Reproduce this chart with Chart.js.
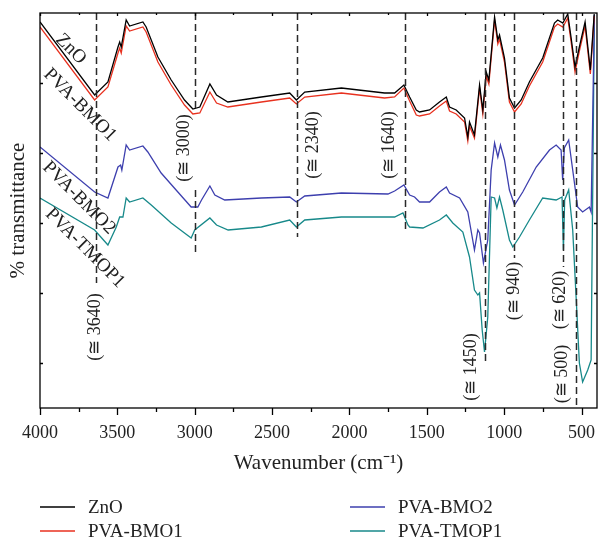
<!DOCTYPE html>
<html lang="en">
  <head>
    <meta charset="UTF-8" />
    <title>FTIR spectra</title>
    <style>
      body { margin: 0; background: #fff; }
      canvas { display: block; }
    </style>
  </head>
  <body>
    <canvas id="ftir" width="599" height="546"></canvas>
    <script src="https://cdn.jsdelivr.net/npm/chart.js"></script>
    <script>
      // wavenumbers (cm-1) and relative transmittance
      const znoWn = [4000, 3647, 3561, 3496, 3485, 3475, 3443, 3421, 3335, 3314, 3238, 3152, 3066, 3012, 2967, 2902, 2859, 2786, 2569, 2386, 2343, 2289, 2052, 1773, 1708, 1648, 1611, 1568, 1547, 1482, 1418, 1374, 1353, 1310, 1256, 1235, 1224, 1192, 1159, 1138, 1116, 1099, 1062, 1041, 1030, 998, 966, 933, 890, 837, 751, 675, 654, 621, 589, 568, 542, 514, 477, 443, 418];
      const znoT = [386, 313, 326, 361, 366, 361, 388, 382, 386, 381, 351, 328, 308, 299, 301, 324, 313, 306, 311, 315, 308, 316, 320, 315, 315, 323, 311, 298, 296, 298, 306, 311, 301, 298, 290, 271, 286, 273, 323, 298, 336, 328, 391, 368, 373, 350, 310, 300, 308, 326, 350, 385, 388, 385, 394, 371, 341, 361, 386, 338, 394];
      const bmo1T = [381, 308, 321, 355, 360, 355, 382, 377, 381, 376, 346, 323, 303, 294, 295, 316, 305, 301, 306, 310, 304, 311, 315, 310, 311, 320, 307, 293, 292, 294, 302, 307, 297, 294, 286, 267, 282, 270, 320, 294, 332, 324, 388, 364, 369, 346, 306, 296, 304, 322, 346, 381, 384, 381, 390, 367, 336, 357, 382, 334, 392];

      const bmo2Wn = [4000, 3647, 3561, 3496, 3479, 3471, 3443, 3421, 3335, 3303, 3217, 3109, 3023, 2980, 2956, 2902, 2870, 2806, 2569, 2386, 2343, 2289, 2052, 1751, 1708, 1648, 1611, 1579, 1547, 1482, 1418, 1374, 1353, 1288, 1235, 1192, 1170, 1159, 1134, 1106, 1084, 1062, 1041, 1024, 998, 966, 933, 880, 793, 707, 664, 632, 622, 611, 583, 557, 525, 493, 449, 438, 417];
      const bmo2T = [261, 216, 210, 241, 243, 238, 263, 258, 262, 256, 235, 216, 201, 201, 208, 222, 213, 208, 210, 211, 206, 212, 215, 214, 217, 223, 213, 211, 206, 206, 216, 221, 215, 210, 196, 158, 178, 175, 145, 168, 238, 265, 251, 263, 248, 218, 203, 216, 241, 258, 263, 258, 228, 260, 268, 238, 201, 196, 201, 196, 393];

      const tmop1Wn = [4000, 3647, 3561, 3507, 3485, 3464, 3443, 3421, 3335, 3281, 3152, 3023, 3000, 2902, 2859, 2784, 2569, 2386, 2343, 2289, 2052, 1794, 1708, 1654, 1622, 1611, 1525, 1418, 1374, 1332, 1267, 1224, 1192, 1170, 1159, 1142, 1127, 1106, 1084, 1062, 1047, 1030, 1009, 966, 944, 901, 837, 751, 664, 626, 617, 609, 583, 557, 535, 514, 493, 460, 438, 417];
      const tmop1T = [210, 178, 163, 181, 191, 191, 210, 206, 210, 203, 185, 170, 178, 190, 183, 178, 181, 188, 181, 188, 191, 191, 191, 195, 183, 181, 180, 188, 193, 185, 176, 151, 118, 113, 115, 78, 56, 91, 211, 210, 200, 211, 198, 168, 161, 171, 188, 210, 208, 211, 158, 208, 218, 178, 111, 45, 26, 38, 48, 393];

      const seriesNames = ["ZnO", "PVA-BMO1", "PVA-BMO2", "PVA-TMOP1"];
      const seriesColors = ["#000000", "#e8311f", "#3d3fae", "#17898a"];

      const xTicks = [4000, 3500, 3000, 2500, 2000, 1500, 1000, 500];
      const xMinorTicks = [3750, 3250, 2750, 2250, 1750, 1250, 750];
      const yTicks = [45, 115, 185, 255, 325];

      const markerWn = [3640, 3000, 2340, 1640, 1127, 934, 622, 535];
      const markerText = ["(\u2245 3640)", "(\u2245 3000)", "(\u2245 2340)", "(\u2245 1640)", "(\u2245 1450)", "(\u2245 940)", "(\u2245 620)", "(\u2245 500)"];

      const FONT = '"Liberation Serif", "Times New Roman", serif';

      function pairs(wn, t) {
        return wn.map((w, i) => ({ x: w, y: t[i] }));
      }

      // layout of the marker lines (segments in y units) and their labels
      const markerLayout = [
        { segs: [[395, 125]], dx: 0, ly: 81 },
        { segs: [[395, 300], [218, 156]], dx: -10, ly: 260 },
        { segs: [[395, 171]], dx: 16, ly: 263 },
        { segs: [[395, 176]], dx: -16, ly: 263 },
        { segs: [[395, 46]], dx: -13, ly: 41 },
        { segs: [[395, 150]], dx: 0, ly: 117 },
        { segs: [[395, 141]], dx: -2, ly: 108 },
        { segs: [[395, 0]], dx: -14, ly: 34 },
      ];
      const seriesLabelPos = [
        { x: 3800, y: 359 },
        { x: 3742, y: 303 },
        { x: 3748, y: 210 },
        { x: 3709, y: 160 },
      ];

      const decor = {
        id: "decor",
        afterDatasetsDraw(chart) {
          const { ctx, scales } = chart;
          const xs = scales.x, ys = scales.y;
          ctx.save();
          // dashed marker lines
          ctx.strokeStyle = "#2a2a2a";
          ctx.lineWidth = 1.5;
          ctx.setLineDash([7, 4]);
          markerWn.forEach((w, i) => {
            const px = Math.round(xs.getPixelForValue(w)) + 0.5;
            markerLayout[i].segs.forEach(([y0, y1]) => {
              ctx.beginPath();
              ctx.moveTo(px, ys.getPixelForValue(y0));
              ctx.lineTo(px, ys.getPixelForValue(y1));
              ctx.stroke();
            });
          });
          ctx.setLineDash([]);
          // marker labels
          ctx.fillStyle = "#222";
          ctx.font = "18px " + FONT;
          ctx.textAlign = "center";
          ctx.textBaseline = "middle";
          markerWn.forEach((w, i) => {
            const m = markerLayout[i];
            ctx.save();
            ctx.translate(xs.getPixelForValue(w) + m.dx, ys.getPixelForValue(m.ly));
            ctx.rotate(-Math.PI / 2);
            ctx.fillText(markerText[i], 0, 0);
            ctx.restore();
          });
          // series labels
          ctx.font = "19px " + FONT;
          seriesNames.forEach((name, i) => {
            const p = seriesLabelPos[i];
            ctx.save();
            ctx.translate(xs.getPixelForValue(p.x), ys.getPixelForValue(p.y));
            ctx.rotate(Math.PI / 4);
            ctx.fillText(name, 0, 0);
            ctx.restore();
          });
          ctx.restore();
        },
        afterDraw(chart) {
          const { ctx, chartArea: a, scales } = chart;
          const xs = scales.x, ys = scales.y;
          ctx.save();
          ctx.strokeStyle = "#000";
          ctx.lineWidth = 1.3;
          ctx.strokeRect(a.left, a.top, a.right - a.left, a.bottom - a.top);
          ctx.beginPath();
          xTicks.forEach((v) => {
            const px = Math.round(xs.getPixelForValue(v)) + 0.5;
            ctx.moveTo(px, a.bottom); ctx.lineTo(px, a.bottom + 7);
            ctx.moveTo(px, a.top); ctx.lineTo(px, a.top + 3);
          });
          xMinorTicks.forEach((v) => {
            const px = Math.round(xs.getPixelForValue(v)) + 0.5;
            ctx.moveTo(px, a.bottom); ctx.lineTo(px, a.bottom + 4);
            ctx.moveTo(px, a.top); ctx.lineTo(px, a.top + 2);
          });
          yTicks.forEach((v) => {
            const py = Math.round(ys.getPixelForValue(v)) + 0.5;
            ctx.moveTo(a.left, py); ctx.lineTo(a.left + 3, py);
            ctx.moveTo(a.right, py); ctx.lineTo(a.right - 3, py);
          });
          ctx.stroke();

          // axis titles
          ctx.fillStyle = "#222";
          ctx.font = "21px " + FONT;
          ctx.textAlign = "center";
          ctx.textBaseline = "middle";
          ctx.fillText("Wavenumber (cm\u207B\u00B9)", (a.left + a.right) / 2, 463);
          ctx.save();
          ctx.translate(18, (a.top + a.bottom) / 2);
          ctx.rotate(-Math.PI / 2);
          ctx.fillText("% transmittance", 0, 0);
          ctx.restore();

          // legend, two columns
          ctx.font = "19px " + FONT;
          ctx.textAlign = "left";
          chart.data.datasets.forEach((ds, i) => {
            const col = Math.floor(i / 2), row = i % 2;
            const lx = 40 + col * 310, ly = 507 + row * 24;
            ctx.strokeStyle = ds.borderColor;
            ctx.lineWidth = 1.5;
            ctx.beginPath();
            ctx.moveTo(lx, ly); ctx.lineTo(lx + 35, ly);
            ctx.stroke();
            ctx.fillText(ds.label, lx + 48, ly + 1);
          });
          ctx.restore();
        },
      };

      new Chart(document.getElementById("ftir"), {
        type: "line",
        data: {
          datasets: [
            { label: seriesNames[0], data: pairs(znoWn, znoT), borderColor: seriesColors[0] },
            { label: seriesNames[1], data: pairs(znoWn, bmo1T), borderColor: seriesColors[1] },
            { label: seriesNames[2], data: pairs(bmo2Wn, bmo2T), borderColor: seriesColors[2] },
            { label: seriesNames[3], data: pairs(tmop1Wn, tmop1T), borderColor: seriesColors[3] },
          ],
        },
        options: {
          responsive: false,
          animation: false,
          layout: { padding: { top: 13, right: 2, left: 0, bottom: 0 } },
          elements: {
            point: { radius: 0 },
            line: { borderWidth: 1.3, tension: 0 },
          },
          scales: {
            x: {
              type: "linear",
              reverse: true,
              min: 400,
              max: 4000,
              grid: { display: true, drawOnChartArea: false, drawTicks: false },
              border: { display: false },
              afterBuildTicks(scale) {
                scale.ticks = xTicks.map((v) => ({ value: v }));
              },
              afterFit(scale) {
                scale.height = 138;
                scale.paddingLeft = 0;
                scale.paddingRight = 0;
              },
              ticks: {
                color: "#222",
                padding: 14,
                maxRotation: 0,
                autoSkip: false,
                font: { family: FONT, size: 18 },
                callback: (v) => String(v),
              },
            },
            y: {
              min: 0,
              max: 395,
              grid: { display: false },
              border: { display: false },
              ticks: { display: false },
              afterFit(scale) {
                scale.width = 40;
                scale.paddingTop = 0;
                scale.paddingBottom = 0;
              },
            },
          },
          plugins: {
            legend: { display: false },
            tooltip: { enabled: false },
          },
        },
        plugins: [decor],
      });
    </script>
  </body>
</html>
